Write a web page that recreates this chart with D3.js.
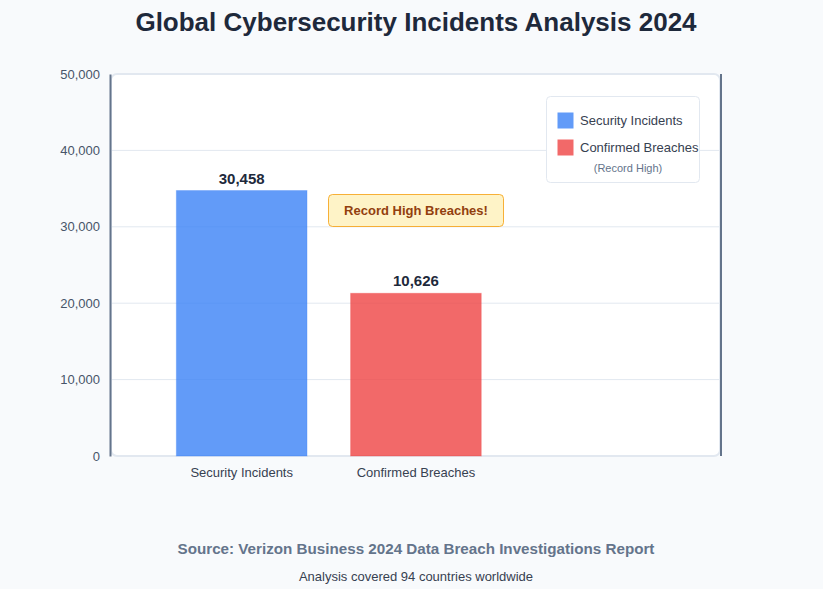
<!DOCTYPE html>
<html>
<head>
<meta charset="utf-8">
<script src="https://cdn.jsdelivr.net/npm/d3@7"></script>
<style>
  html, body { margin: 0; padding: 0; background: #f8fafc; }
  svg { display: block; font-family: "Liberation Sans", Arial, sans-serif; }
</style>
</head>
<body>
<svg id="chart" width="823" height="589"></svg>
<script>
// chart data
var categories = ['Security Incidents', 'Confirmed Breaches'];
var barValues = [34750, 21300];      // bar heights as drawn
var valueLabels = ['30,458', '10,626']; // labels printed above the bars
var barColors = ['#3b82f6', '#ef4444'];
var yTicks = [0, 10000, 20000, 30000, 40000, 50000];

var svg = d3.select('#chart');
var W = 823, H = 589;
var midX = 416; // page content is centred a bit right of the svg middle
var plotLeft = 111, plotRight = 720, plotTop = 74, plotBottom = 456;

var y = d3.scaleLinear().domain([0, 50000]).range([plotBottom, plotTop]);
var x = d3.scaleBand()
  .domain(categories)
  .range([plotLeft, plotLeft + 435.6])
  .paddingInner(0.25)
  .paddingOuter(0.375);

// title
svg.append('text')
  .attr('x', midX).attr('y', 30.5)
  .attr('text-anchor', 'middle')
  .attr('font-size', 26).attr('font-weight', 'bold')
  .attr('fill', '#1e293b')
  .text('Global Cybersecurity Incidents Analysis 2024');

// plot background
svg.append('rect')
  .attr('x', plotLeft).attr('y', plotTop)
  .attr('width', plotRight - plotLeft).attr('height', plotBottom - plotTop)
  .attr('rx', 6)
  .attr('fill', '#fff')
  .attr('stroke', '#e2e8f0').attr('stroke-width', 2);

// gridlines
svg.append('g')
  .selectAll('line')
  .data(yTicks.filter(function (d) { return d > 0 && d < 50000; }))
  .join('line')
  .attr('x1', plotLeft).attr('x2', plotRight)
  .attr('y1', function (d) { return y(d); })
  .attr('y2', function (d) { return y(d); })
  .attr('stroke', '#e2e8f0').attr('stroke-width', 1);

// y axis
var yAxis = svg.append('g')
  .attr('transform', 'translate(' + (plotLeft - 1) + ',0)')
  .call(d3.axisLeft(y).tickValues(yTicks).tickSize(0).tickPadding(10)
    .tickFormat(d3.format(',')));
yAxis.select('.domain').attr('stroke', '#64748b').attr('stroke-width', 2);
yAxis.selectAll('text')
  .attr('font-size', 13).attr('fill', '#475569')
  .attr('font-family', '"Liberation Sans", Arial, sans-serif');

// right edge line
svg.append('line')
  .attr('x1', plotRight + 1).attr('x2', plotRight + 1)
  .attr('y1', plotTop).attr('y2', plotBottom)
  .attr('stroke', '#64748b').attr('stroke-width', 2);

// bars
svg.append('g')
  .selectAll('rect')
  .data(categories)
  .join('rect')
  .attr('x', function (d) { return x(d); })
  .attr('y', function (d, i) { return y(barValues[i]); })
  .attr('width', x.bandwidth())
  .attr('height', function (d, i) { return plotBottom - y(barValues[i]); })
  .attr('fill', function (d, i) { return barColors[i]; })
  .attr('fill-opacity', 0.8)
  .attr('stroke', function (d, i) { return barColors[i]; })
  .attr('stroke-opacity', 0.3)
  .attr('stroke-width', 1);

// value labels
svg.append('g')
  .selectAll('text')
  .data(categories)
  .join('text')
  .attr('x', function (d) { return x(d) + x.bandwidth() / 2; })
  .attr('y', function (d, i) { return y(barValues[i]) - 7; })
  .attr('text-anchor', 'middle')
  .attr('font-size', 15).attr('font-weight', 'bold')
  .attr('fill', '#1e293b')
  .text(function (d, i) { return valueLabels[i]; });

// x labels
svg.append('g')
  .selectAll('text')
  .data(categories)
  .join('text')
  .attr('x', function (d) { return x(d) + x.bandwidth() / 2; })
  .attr('y', plotBottom + 21)
  .attr('text-anchor', 'middle')
  .attr('font-size', 13)
  .attr('fill', '#374151')
  .text(function (d) { return d; });

// annotation
var note = svg.append('g');
note.append('rect')
  .attr('x', 328.5).attr('y', 194.5)
  .attr('width', 175).attr('height', 32)
  .attr('rx', 4)
  .attr('fill', '#fef3c7')
  .attr('stroke', '#f59e0b').attr('stroke-opacity', 0.8).attr('stroke-width', 1);
note.append('text')
  .attr('x', 416).attr('y', 215)
  .attr('text-anchor', 'middle')
  .attr('font-size', 13).attr('font-weight', 'bold')
  .attr('fill', '#92400e')
  .text('Record High Breaches!');

// legend
var legend = svg.append('g');
legend.append('rect')
  .attr('x', 546.5).attr('y', 96.5)
  .attr('width', 153).attr('height', 86)
  .attr('rx', 4)
  .attr('fill', '#fff')
  .attr('stroke', '#e2e8f0').attr('stroke-width', 1);
legend.selectAll('.sw')
  .data(categories)
  .join('rect')
  .attr('class', 'sw')
  .attr('x', 557.5)
  .attr('y', function (d, i) { return 112.5 + i * 27; })
  .attr('width', 16).attr('height', 16)
  .attr('fill', function (d, i) { return barColors[i]; })
  .attr('fill-opacity', 0.8);
legend.selectAll('.lt')
  .data(categories)
  .join('text')
  .attr('class', 'lt')
  .attr('x', 580)
  .attr('y', function (d, i) { return 125 + i * 27; })
  .attr('font-size', 13)
  .attr('fill', '#374151')
  .text(function (d) { return d; });
legend.append('text')
  .attr('x', 628).attr('y', 172)
  .attr('text-anchor', 'middle')
  .attr('font-size', 11)
  .attr('fill', '#64748b')
  .text('(Record High)');

// footer
svg.append('text')
  .attr('x', midX).attr('y', 554)
  .attr('text-anchor', 'middle')
  .attr('font-size', 15.2).attr('font-weight', 'bold')
  .attr('fill', '#64748b')
  .text('Source: Verizon Business 2024 Data Breach Investigations Report');
svg.append('text')
  .attr('x', midX).attr('y', 581)
  .attr('text-anchor', 'middle')
  .attr('font-size', 13)
  .attr('fill', '#374151')
  .text('Analysis covered 94 countries worldwide');
</script>
</body>
</html>
